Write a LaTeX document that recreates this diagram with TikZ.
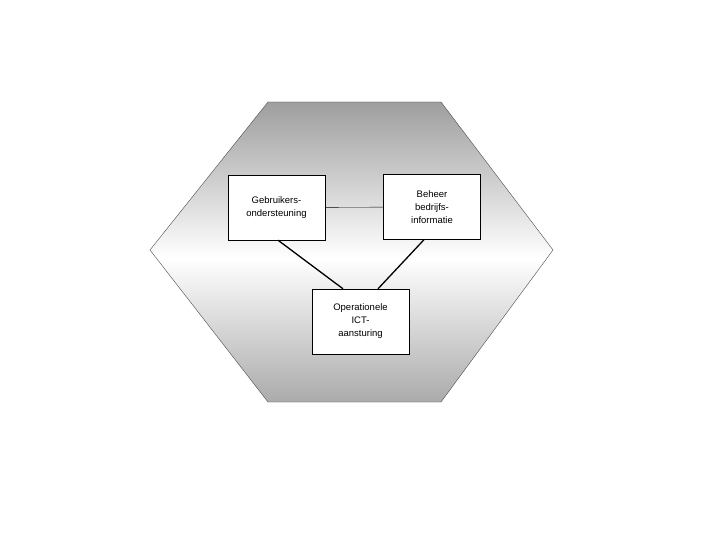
\documentclass[tikz,border=0pt]{standalone}
\usepackage{fontspec}
\setmainfont{Liberation Sans}
\pgfdeclareverticalshading{hexshade}{100bp}{color(0bp)=(black!33); color(25bp)=(black!33); color(49bp)=(white); color(75bp)=(black!38); color(100bp)=(black!38)}
\begin{document}
\begin{tikzpicture}[x=1pt,y=-1pt,
  box/.style={draw,fill=white,inner sep=0pt,minimum width=97pt,minimum height=65pt,align=center,font=\fontsize{9.5}{13}\selectfont}]
\useasboundingbox (0,0) rectangle (720,540);
\draw[black!70,shading=hexshade] (268,102) -- (441,102) -- (553,250) -- (441,402) -- (268,402) -- (150,250) -- cycle;
\node[box] (g) at (276.5,207.5) {Gebruikers-\\ondersteuning};
\node[box] (b) at (432,207) {Beheer\\bedrijfs-\\informatie};
\node[box] (o) at (360.5,321.5) {Operationele\\ICT-\\aansturing};
\draw (g) -- (b);
\draw[line width=1.3pt] (g.south) ++(1.5,0) coordinate (g1) -- (o.north -| 343,0) coordinate (o1);
\draw[line width=1.3pt] (b.south) ++(-8,0) coordinate (b1) -- (o.north -| 378,0);
\end{tikzpicture}
\end{document}
